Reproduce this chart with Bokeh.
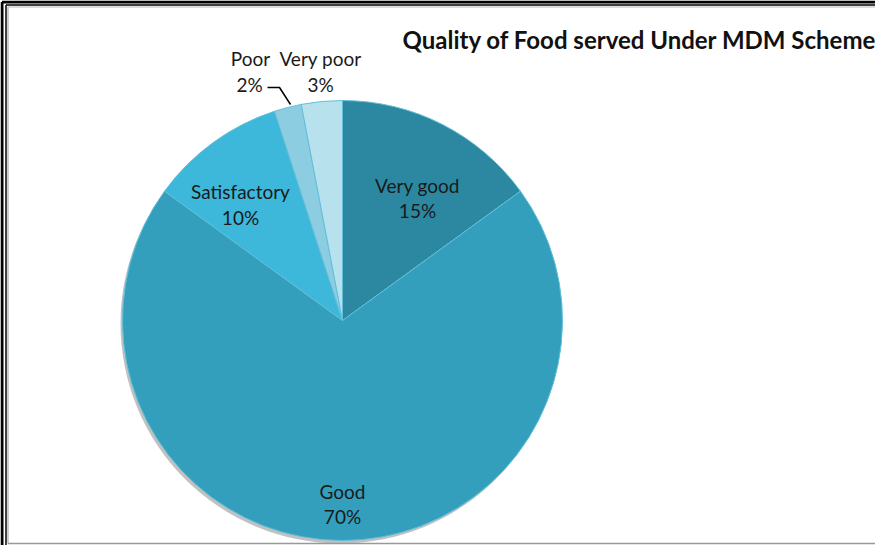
import math
from bokeh.plotting import figure
from bokeh.models import Range1d, ColumnDataSource
from bokeh.core.properties import value
from bokeh.embed import file_html
from bokeh.resources import INLINE

# ---- data ----
categories = ["Very good", "Good", "Satisfactory", "Poor", "Very poor"]
percents = [15, 70, 10, 2, 3]
colors = ["#2b88a0", "#339fbd", "#3db7da", "#8dcde2", "#b8e1ee"]
title_text = "Quality of Food served Under MDM Scheme"

# ---- layout (page pixel coords; y measured downward) ----
W, H = 875, 545
X0, Y0 = 8, 8
def yp(y):  # page y (down) -> data y (up)
    return (Y0 + H) - y

CX, CY, R = 350, 328, 220
label_pos = {
    "Very good": ((425, 193), (425, 218)),
    "Good": ((350, 499), (350, 524)),
    "Satisfactory": ((248, 199), (248, 225)),
    "Poor": ((258, 66), (257, 92)),
    "Very poor": ((328, 66), (328, 92)),
}

p = figure(width=W, height=H, output_backend="svg", toolbar_location=None,
           x_range=Range1d(X0, X0 + W), y_range=Range1d(0, H),
           min_border=0, outline_line_color=None, background_fill_color="white")
p.axis.visible = False
p.grid.visible = False

# wedges
total = sum(percents)
starts, ends = [], []
a = math.pi / 2
for v in percents:
    starts.append(a)
    a -= 2 * math.pi * v / total
    ends.append(a)

src = ColumnDataSource(dict(cat=categories, val=percents, color=colors,
                            start=starts, end=ends))

# soft shadow
p.circle(x=CX - 2, y=yp(CY + 3), radius=R, fill_color="#333333",
         fill_alpha=0.3, line_color=None)
p.wedge(x=CX, y=yp(CY), radius=R, start_angle="start", end_angle="end",
        direction="clock", fill_color="color", line_color="#62bfd9",
        line_width=1, source=src)

# labels
names_x, names_y, pct_x, pct_y, names, pcts = [], [], [], [], [], []
for c, v in zip(categories, percents):
    (nx, ny), (px_, py_) = label_pos[c]
    names_x.append(nx); names_y.append(yp(ny)); names.append(c)
    pct_x.append(px_); pct_y.append(yp(py_)); pcts.append(f"{v}%")

p.text(x=names_x, y=names_y, text=names, text_align="center",
       text_baseline="middle", text_font=value("Lato"),
       text_font_size="19px", text_color="#1a1a1a")
p.text(x=pct_x, y=pct_y, text=pcts, text_align="center",
       text_baseline="middle", text_font=value("Lato"),
       text_font_size="19px", text_color="#1a1a1a")

# leader line for "Poor"
p.line(x=[275, 287, 298], y=[yp(95), yp(95), yp(112)], line_color="black",
       line_width=1.5)

# title
p.text(x=[410], y=[yp(47)], text=[title_text], text_align="left",
       text_baseline="middle", text_font=value("Lato"),
       text_font_size="24px", text_font_style="bold", text_color="#111111")

# frame (double border)
p.line(x=[9.5, 9.5], y=[yp(9.5), 0], line_color="black", line_width=3)
p.line(x=[9.5, X0 + W], y=[yp(9.5), yp(9.5)], line_color="black", line_width=3)
p.line(x=[13.5, 13.5], y=[yp(12.5), 0], line_color="black", line_width=1.5)
p.line(x=[13.5, X0 + W], y=[yp(12.5), yp(12.5)], line_color="black", line_width=1.5)
p.line(x=[15.5, 15.5], y=[yp(14.5), yp(551)], line_color="#999999", line_width=1)
p.line(x=[15.5, X0 + W], y=[yp(14.5), yp(14.5)], line_color="#bbbbbb", line_width=1)
p.line(x=[15.5, X0 + W], y=[yp(551), yp(551)], line_color="#999999", line_width=1.5)

open("out.html", "w").write(file_html(p, INLINE))
